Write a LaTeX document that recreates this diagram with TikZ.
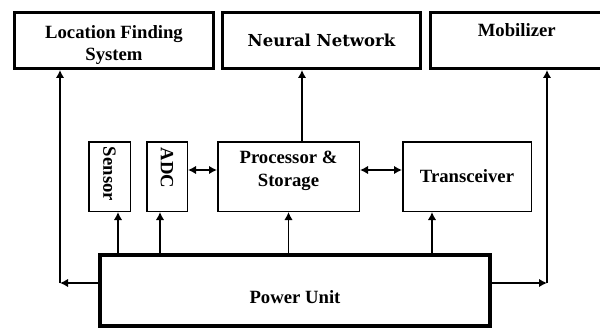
\documentclass[tikz,border=0pt]{standalone}
\usepackage{fontspec}
\setmainfont{Liberation Serif}
\newfontfamily\nnfont{DejaVu Serif}
\usepackage{tikz}
\usetikzlibrary{arrows.meta}
\tikzstyle{e}=[line width=1.7pt,-{Latex[length=8pt,width=8.5pt]}]
\tikzstyle{ee}=[line width=1.7pt,{Latex[length=8pt,width=8.5pt]}-{Latex[length=8pt,width=8.5pt]}]
\tikzstyle{sys}=[draw,line width=3pt,minimum height=56pt,inner sep=0pt,align=center,font=\fontsize{18.7}{22.5}\selectfont\bfseries]
\tikzstyle{blk}=[draw,line width=1.5pt,minimum height=69.5pt,inner sep=0pt,align=center,font=\fontsize{18.7}{22.5}\selectfont\bfseries]
\tikzstyle{pwr}=[draw,line width=4pt,minimum width=390pt,minimum height=71pt,inner sep=0pt,font=\fontsize{18.7}{22.5}\selectfont\bfseries]

\begin{document}
\begin{tikzpicture}[x=1pt,y=-1pt]
\useasboundingbox (0,0) rectangle (600,329);

% Nodes
\node[sys,minimum width=199pt,text height=45pt,text depth=4pt] (location) at (114,40.5) {Location Finding\\System};
\node[sys,minimum width=198pt,font=\fontsize{16.5}{20}\selectfont\nnfont\bfseries] (network) at (321.5,40.5) {Neural Network};
\node[sys,minimum width=172.5pt,text depth=21pt] (mobilizer) at (516.75,40.5) {Mobilizer};
\node[blk,minimum width=41.5pt]  (sensor)      at (109.5,176.5) {\rotatebox{-90}{Sensor\hspace{5pt}}};
\node[blk,minimum width=40.5pt]  (adc)         at (167,176.5)   {\rotatebox{-90}{ADC\hspace{17pt}}};
\node[blk,minimum width=141.5pt,text height=23pt,text depth=4pt] (processor) at (288.5,176.5) {Processor \&\\Storage};
\node[blk,minimum width=128.5pt] (transceiver) at (467,176.5)   {Transceiver};
\node[pwr,text height=25.5pt,text depth=0pt] (power) at (295,290.5) {Power Unit};

\coordinate (lcorner) at (60,283);
\coordinate (mcorner) at (547,283);

% Edges
\draw[e] (power.west |- lcorner) -- (lcorner);
\draw[e] (lcorner) -- (lcorner |- location.south);
\draw[e] (power.east |- mcorner) -- (mcorner);
\draw[e] (mcorner) -- (mcorner |- mobilizer.south);
\draw[e] ([xshift=13.5pt]processor.north) -- ([xshift=13.5pt]processor.north |- network.south);
\draw[e] ([xshift=8.5pt]sensor.south |- power.north) -- ([xshift=8.5pt]sensor.south);
\draw[e] ([xshift=-7pt]adc.south |- power.north) -- ([xshift=-7pt]adc.south);
\draw[e] (power.north -| processor.south) -- (processor.south);
\draw[e] ([xshift=-35pt]transceiver.south |- power.north) -- ([xshift=-35pt]transceiver.south);
\draw[ee] ([yshift=6.5pt]adc.east) -- ([yshift=6.5pt]adc.east -| processor.west);
\draw[ee] ([yshift=6.5pt]processor.east) -- ([yshift=6.5pt]processor.east -| transceiver.west);

\end{tikzpicture}
\end{document}
